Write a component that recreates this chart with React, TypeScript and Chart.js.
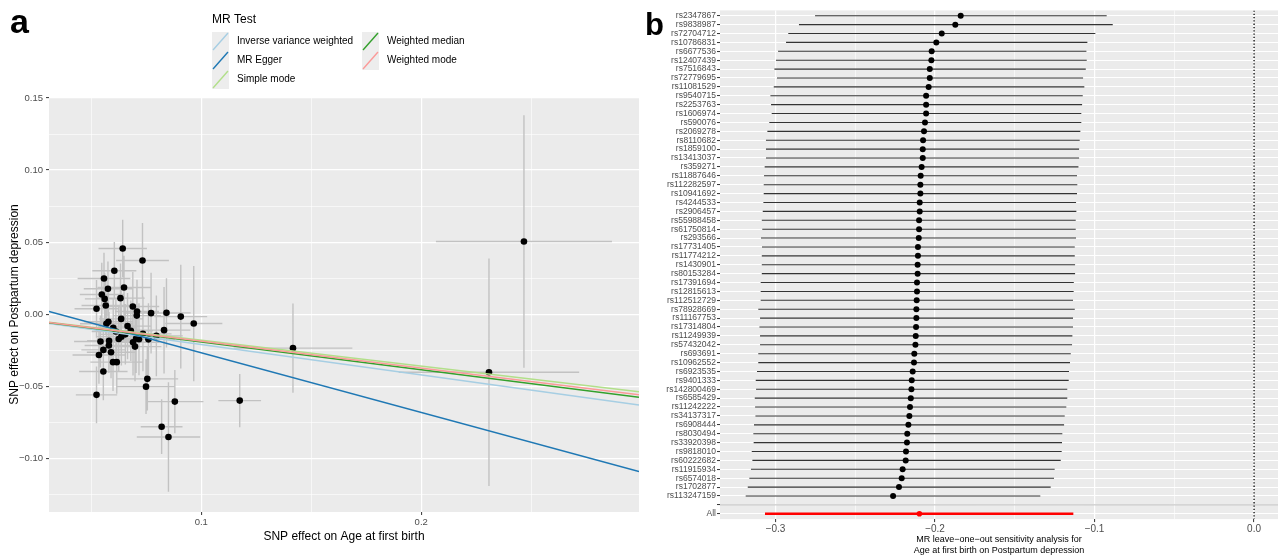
import React, { useEffect, useRef } from "react";
import { Chart, registerables } from "chart.js";
Chart.register(...registerables);

const FONT = '"Liberation Sans", Arial, Helvetica, sans-serif';

// ---------- Panel a: MR scatter ----------
const SNP_BX = [0.0643,0.0733,0.0605,0.0558,0.0576,0.0649,0.0548,0.0561,0.0633,0.0524,0.0566,0.0689,0.0708,0.0707,0.0772,0.0842,0.0907,0.0966,0.0636,0.0578,0.0569,0.0665,0.0735,0.0831,0.0625,0.0637,0.0704,0.0717,0.0542,0.0581,0.0580,0.0699,0.0555,0.0535,0.0590,0.0599,0.0616,0.0555,0.0755,0.0749,0.0524,0.0880,0.1175,0.0820,0.0851,0.1417,0.2308,0.2467,0.0796,0.0655,0.0600,0.0690,0.0612,0.0760,0.0680];
const SNP_BY = [0.0456,0.0372,0.0301,0.0247,0.0176,0.0185,0.0136,0.0106,0.0111,0.0037,0.0060,0.0053,0.0018,-0.0010,0.0007,0.0009,-0.0017,-0.0065,-0.0033,-0.0053,-0.0067,-0.0083,-0.0137,-0.0111,-0.0172,-0.0156,-0.0169,-0.0174,-0.0190,-0.0185,-0.0218,-0.0225,-0.0248,-0.0283,-0.0264,-0.0333,-0.0333,-0.0398,-0.0449,-0.0503,-0.0560,-0.0607,-0.0600,-0.0781,-0.0852,-0.0236,-0.0403,0.0504,-0.0151,-0.0140,-0.0095,-0.0195,-0.0120,-0.0175,-0.0115];
const SNP_SE_X = [0.011,0.012,0.010,0.012,0.011,0.012,0.010,0.009,0.011,0.010,0.011,0.012,0.010,0.011,0.012,0.011,0.012,0.013,0.010,0.011,0.012,0.011,0.013,0.012,0.010,0.011,0.010,0.011,0.012,0.010,0.011,0.012,0.010,0.012,0.011,0.010,0.012,0.011,0.014,0.013,0.0094,0.013,0.0097,0.0095,0.0144,0.027,0.041,0.040,0.012,0.011,0.010,0.012,0.011,0.012,0.010];
const SNP_SE_Y = [0.020,0.026,0.020,0.018,0.019,0.022,0.022,0.018,0.024,0.020,0.020,0.024,0.022,0.020,0.028,0.024,0.036,0.040,0.021,0.022,0.020,0.023,0.026,0.030,0.022,0.020,0.024,0.025,0.018,0.020,0.019,0.024,0.021,0.020,0.018,0.020,0.022,0.020,0.022,0.019,0.0197,0.022,0.0185,0.019,0.038,0.031,0.079,0.0876,0.028,0.021,0.020,0.023,0.022,0.025,0.021];

const METHODS = ["Inverse variance weighted", "MR Egger", "Simple mode", "Weighted median", "Weighted mode"];
const METHOD_COLORS = ["#A6CEE3", "#1F78B4", "#B2DF8A", "#33A02C", "#FB9A99"];
const METHOD_SLOPES = [-0.211, -0.414, -0.180, -0.193, -0.187];
const METHOD_INTERCEPTS = [0, 0.0146, 0, 0, 0];

const A_X_RANGE = [0.0308, 0.299];
const A_Y_RANGE = [-0.1373, 0.1507];
const A_X_TICKS = [0.05, 0.1, 0.15, 0.2, 0.25];
const A_X_LABELS = ["", "0.1", "", "0.2", ""];
const A_Y_TICKS = [-0.125, -0.1, -0.075, -0.05, -0.025, 0, 0.025, 0.05, 0.075, 0.1, 0.125, 0.15];
const A_Y_LABELS = ["", "\u22120.10", "", "\u22120.05", "", "0.00", "", "0.05", "", "0.10", "", "0.15"];

// ---------- Panel b: leave-one-out ----------
const B_SNPS = ["rs2347867","rs9838987","rs72704712","rs10786831","rs6677536","rs12407439","rs7516843","rs72779695","rs11081529","rs9540715","rs2253763","rs1606974","rs590076","rs2069278","rs8110682","rs1859100","rs13413037","rs359271","rs11887646","rs112282597","rs10941692","rs4244533","rs2906457","rs55988458","rs61750814","rs293566","rs17731405","rs11774212","rs1430901","rs80153284","rs17391694","rs12815613","rs112512729","rs78928669","rs11167753","rs17314804","rs11249939","rs57432042","rs693691","rs10962552","rs6923535","rs9401333","rs142800469","rs6585429","rs11242222","rs34137317","rs6908444","rs8030494","rs33920398","rs9818010","rs60222682","rs11915934","rs6574018","rs1702877","rs113247159"];
const B_EST = [-0.1839,-0.1873,-0.1958,-0.1992,-0.2021,-0.2023,-0.2033,-0.2033,-0.2040,-0.2056,-0.2056,-0.2056,-0.2063,-0.2069,-0.2075,-0.2077,-0.2077,-0.2084,-0.2090,-0.2092,-0.2092,-0.2096,-0.2096,-0.2100,-0.2100,-0.2102,-0.2107,-0.2107,-0.2109,-0.2109,-0.2113,-0.2113,-0.2115,-0.2117,-0.2117,-0.2119,-0.2121,-0.2123,-0.2130,-0.2132,-0.2140,-0.2146,-0.2148,-0.2152,-0.2157,-0.2161,-0.2167,-0.2174,-0.2176,-0.2182,-0.2184,-0.2203,-0.2209,-0.2226,-0.2263];
const B_LO = [-0.2752,-0.2853,-0.2920,-0.2934,-0.2984,-0.2997,-0.3007,-0.2991,-0.3011,-0.3032,-0.3028,-0.3024,-0.3039,-0.3051,-0.3060,-0.3060,-0.3060,-0.3068,-0.3072,-0.3074,-0.3074,-0.3076,-0.3080,-0.3086,-0.3083,-0.3091,-0.3085,-0.3086,-0.3086,-0.3086,-0.3093,-0.3093,-0.3093,-0.3108,-0.3097,-0.3101,-0.3097,-0.3097,-0.3108,-0.3108,-0.3116,-0.3124,-0.3122,-0.3130,-0.3128,-0.3126,-0.3135,-0.3139,-0.3137,-0.3149,-0.3145,-0.3154,-0.3164,-0.3174,-0.3187];
const B_HI = [-0.0924,-0.0886,-0.0995,-0.1045,-0.1051,-0.1049,-0.1055,-0.1072,-0.1064,-0.1074,-0.1078,-0.1083,-0.1083,-0.1089,-0.1093,-0.1097,-0.1097,-0.1101,-0.1110,-0.1108,-0.1110,-0.1116,-0.1114,-0.1118,-0.1118,-0.1116,-0.1124,-0.1124,-0.1122,-0.1122,-0.1130,-0.1131,-0.1135,-0.1124,-0.1135,-0.1135,-0.1139,-0.1141,-0.1149,-0.1154,-0.1160,-0.1162,-0.1171,-0.1171,-0.1177,-0.1187,-0.1191,-0.1202,-0.1204,-0.1206,-0.1212,-0.1250,-0.1254,-0.1275,-0.1340];
const B_ALL_EST = -0.2098;
const B_ALL_LO = -0.3066;
const B_ALL_HI = -0.1133;
const B_X_RANGE = [-0.3348, 0.015];
const B_X_TICKS = [-0.3, -0.25, -0.2, -0.15, -0.1, -0.05, 0];
const B_X_LABELS = ["\u22120.3", "", "\u22120.2", "", "\u22120.1", "", "0.0"];
const B_TITLE = ["MR leave\u2212one\u2212out sensitivity analysis for", "Age at first birth on Postpartum depression"];

const panelBg = {
  id: "panelBg",
  beforeDraw(chart: any) {
    const { ctx, chartArea: a } = chart;
    ctx.save();
    ctx.fillStyle = "#EBEBEB";
    ctx.fillRect(a.left, a.top, a.right - a.left, a.bottom - a.top);
    ctx.restore();
  },
};

function tagPlugin(letter: string, x: number, y: number, size: number) {
  return {
    id: "tag" + letter,
    afterDraw(chart: any) {
      const ctx = chart.ctx;
      ctx.save();
      ctx.font = `bold ${size}px ${FONT}`;
      ctx.fillStyle = "#000";
      ctx.textBaseline = "alphabetic";
      ctx.textAlign = "left";
      ctx.fillText(letter, x, y);
      ctx.restore();
    },
  };
}

const legendA = {
  id: "legendA",
  afterDraw(chart: any) {
    const ctx = chart.ctx;
    ctx.save();
    ctx.fillStyle = "#000";
    ctx.textBaseline = "middle";
    ctx.textAlign = "left";
    ctx.font = `12px ${FONT}`;
    ctx.fillText("MR Test", 212, 20);
    const colX = [212, 362];
    const keyW = 17, keyH = 19, top = 32;
    METHODS.forEach((m, i) => {
      const col = Math.floor(i / 3), row = i % 3;
      const x = colX[col], y = top + row * keyH;
      ctx.fillStyle = "#EDEDED";
      ctx.fillRect(x, y, keyW, keyH);
      ctx.strokeStyle = METHOD_COLORS[i];
      ctx.lineWidth = 1.4;
      ctx.beginPath();
      ctx.moveTo(x + 1, y + keyH - 1);
      ctx.lineTo(x + keyW - 1, y + 1);
      ctx.stroke();
      ctx.fillStyle = "#000";
      ctx.font = `10px ${FONT}`;
      ctx.fillText(m, x + 25, y + keyH / 2);
    });
    ctx.restore();
  },
};

function isLab(labels: string[], i: number) {
  return !!labels[i];
}

function configA(): any {
  const errData: any[] = [];
  SNP_BX.forEach((bx, i) => {
    const by = SNP_BY[i];
    errData.push({ x: bx - SNP_SE_X[i], y: by }, { x: bx + SNP_SE_X[i], y: by }, { x: bx, y: null });
    errData.push({ x: bx, y: by - SNP_SE_Y[i] }, { x: bx, y: by + SNP_SE_Y[i] }, { x: bx, y: null });
  });
  const lineSets = METHODS.map((m, i) => ({
    type: "line",
    label: m,
    data: A_X_RANGE.map((x) => ({ x, y: METHOD_INTERCEPTS[i] + METHOD_SLOPES[i] * x })),
    borderColor: METHOD_COLORS[i],
    borderWidth: 1.5,
    pointRadius: 0,
    showLine: true,
    order: 4 - i,
  }));
  return {
    type: "scatter",
    data: {
      datasets: [
        {
          type: "line",
          label: "errors",
          data: errData,
          borderColor: "#C2C2C2",
          borderWidth: 1.4,
          pointRadius: 0,
          showLine: true,
          spanGaps: false,
          order: 20,
        },
        {
          label: "SNPs",
          data: SNP_BX.map((x, i) => ({ x, y: SNP_BY[i] })),
          backgroundColor: "#000",
          borderColor: "#000",
          pointRadius: 3.3,
          borderWidth: 0,
          order: 10,
        },
        ...lineSets,
      ],
    },
    options: {
      animation: false,
      responsive: false,
      events: [],
      layout: { padding: { top: 97, right: 1, left: 0, bottom: 0 }, autoPadding: false },
      plugins: { legend: { display: false }, tooltip: { enabled: false } },
      scales: {
        x: {
          type: "linear",
          min: A_X_RANGE[0],
          max: A_X_RANGE[1],
          afterBuildTicks: (s: any) => { s.ticks = A_X_TICKS.map((v) => ({ value: v })); },
          afterFit: (s: any) => { s.height = 45; },
          border: { display: false },
          grid: {
            color: "#FFFFFF",
            lineWidth: (c: any) => (isLab(A_X_LABELS, c.index) ? 1.2 : 0.6),
            tickColor: (c: any) => (isLab(A_X_LABELS, c.index) ? "#333333" : "rgba(0,0,0,0)"),
            tickLength: 3,
            tickWidth: 1,
          },
          ticks: {
            autoSkip: false,
            maxRotation: 0,
            padding: 1.5,
            color: "#4D4D4D",
            font: { family: FONT, size: 9.5 },
            callback: (_v: any, i: number) => A_X_LABELS[i],
          },
          title: {
            display: true,
            text: "SNP effect on Age at first birth",
            color: "#000",
            font: { family: FONT, size: 12 },
            padding: { top: 0, bottom: 12.8 },
          },
        },
        y: {
          type: "linear",
          min: A_Y_RANGE[0],
          max: A_Y_RANGE[1],
          afterBuildTicks: (s: any) => { s.ticks = A_Y_TICKS.map((v) => ({ value: v })); },
          afterFit: (s: any) => { s.width = 49; },
          border: { display: false },
          grid: {
            color: "#FFFFFF",
            lineWidth: (c: any) => (isLab(A_Y_LABELS, c.index) ? 1.2 : 0.6),
            tickColor: (c: any) => (isLab(A_Y_LABELS, c.index) ? "#333333" : "rgba(0,0,0,0)"),
            tickLength: 3,
            tickWidth: 1,
          },
          ticks: {
            autoSkip: false,
            padding: 3,
            color: "#4D4D4D",
            font: { family: FONT, size: 9.5 },
            callback: (_v: any, i: number) => A_Y_LABELS[i],
          },
          title: {
            display: true,
            text: "SNP effect on Postpartum depression",
            color: "#000",
            font: { family: FONT, size: 12 },
            padding: { top: 7, bottom: 0 },
          },
        },
      },
    },
    plugins: [panelBg, legendA, tagPlugin("a", 10, 33, 34)],
  };
}

function configB(): any {
  const nRows = B_SNPS.length + 2;
  const errData: any[] = [];
  B_EST.forEach((_e, i) => {
    errData.push({ x: B_LO[i], y: i + 1 }, { x: B_HI[i], y: i + 1 }, { x: B_HI[i], y: null });
  });
  const labelFor = (i: number) => (i < B_SNPS.length ? B_SNPS[i] : i === B_SNPS.length ? "" : "All");
  return {
    type: "scatter",
    data: {
      datasets: [
        {
          type: "line",
          label: "sep",
          data: B_X_RANGE.map((x) => ({ x, y: B_SNPS.length + 1 })),
          borderColor: "#BEBEBE",
          borderWidth: 1,
          pointRadius: 0,
          showLine: true,
          order: 30,
        },
        {
          type: "line",
          label: "zero",
          data: [{ x: 0, y: 0.4 }, { x: 0, y: nRows + 0.6 }],
          borderColor: "#000",
          borderWidth: 1.3,
          borderDash: [1.3, 2],
          pointRadius: 0,
          showLine: true,
          order: 25,
        },
        {
          type: "line",
          label: "ci",
          data: errData,
          borderColor: "#333333",
          borderWidth: 1.1,
          pointRadius: 0,
          showLine: true,
          spanGaps: false,
          order: 20,
        },
        {
          type: "line",
          label: "all ci",
          data: [{ x: B_ALL_LO, y: nRows }, { x: B_ALL_HI, y: nRows }],
          borderColor: "#FF0000",
          borderWidth: 2.6,
          pointRadius: 0,
          showLine: true,
          order: 15,
        },
        {
          label: "est",
          data: B_EST.map((x, i) => ({ x, y: i + 1 })),
          backgroundColor: "#000",
          borderWidth: 0,
          pointRadius: 3,
          order: 10,
        },
        {
          label: "all",
          data: [{ x: B_ALL_EST, y: nRows }],
          backgroundColor: "#FF0000",
          borderWidth: 0,
          pointRadius: 2.8,
          order: 5,
        },
      ],
    },
    options: {
      animation: false,
      responsive: false,
      events: [],
      layout: { padding: { top: 10.4, right: 1, left: 0, bottom: 0 }, autoPadding: false },
      plugins: { legend: { display: false }, tooltip: { enabled: false } },
      scales: {
        x: {
          type: "linear",
          min: B_X_RANGE[0],
          max: B_X_RANGE[1],
          afterBuildTicks: (s: any) => { s.ticks = B_X_TICKS.map((v) => ({ value: v })); },
          afterFit: (s: any) => { s.height = 37.9; },
          border: { display: false },
          grid: {
            color: "#FFFFFF",
            lineWidth: (c: any) => (isLab(B_X_LABELS, c.index) ? 1.2 : 0.6),
            tickColor: (c: any) => (isLab(B_X_LABELS, c.index) ? "#333333" : "rgba(0,0,0,0)"),
            tickLength: 3,
            tickWidth: 1,
          },
          ticks: {
            autoSkip: false,
            maxRotation: 0,
            padding: 1.5,
            color: "#4D4D4D",
            font: { family: FONT, size: 10 },
            callback: (_v: any, i: number) => B_X_LABELS[i],
          },
          title: {
            display: true,
            text: B_TITLE,
            color: "#000",
            font: { family: FONT, size: 9 },
            padding: { top: 0, bottom: 0.8 },
          },
        },
        y: {
          type: "linear",
          reverse: true,
          min: 0.4,
          max: nRows + 0.6,
          afterBuildTicks: (s: any) => {
            const t: any[] = [];
            for (let i = 1; i <= nRows; i++) t.push({ value: i });
            s.ticks = t;
          },
          afterFit: (s: any) => { s.width = 80; },
          border: { display: false },
          grid: {
            color: "#FFFFFF",
            lineWidth: 1.1,
            tickColor: "#333333",
            tickLength: 3,
            tickWidth: 1,
          },
          ticks: {
            autoSkip: false,
            padding: 1,
            color: "#4D4D4D",
            font: { family: FONT, size: 8.5 },
            callback: (_v: any, i: number) => labelFor(i),
          },
        },
      },
    },
    plugins: [panelBg, tagPlugin("b", 5, 35, 31)],
  };
}

export default function App() {
  const refA = useRef<HTMLCanvasElement>(null);
  const refB = useRef<HTMLCanvasElement>(null);
  useEffect(() => {
    const ca = new Chart(refA.current as HTMLCanvasElement, configA());
    const cb = new Chart(refB.current as HTMLCanvasElement, configB());
    return () => {
      ca.destroy();
      cb.destroy();
    };
  }, []);
  return (
    <div style={{ position: "absolute", left: 0, top: 0, width: 1279, height: 557, background: "#FFFFFF", overflow: "hidden" }}>
      <canvas ref={refA} width={640} height={557} style={{ position: "absolute", left: 0, top: 0, width: 640, height: 557 }} />
      <canvas ref={refB} width={639} height={557} style={{ position: "absolute", left: 640, top: 0, width: 639, height: 557 }} />
    </div>
  );
}
